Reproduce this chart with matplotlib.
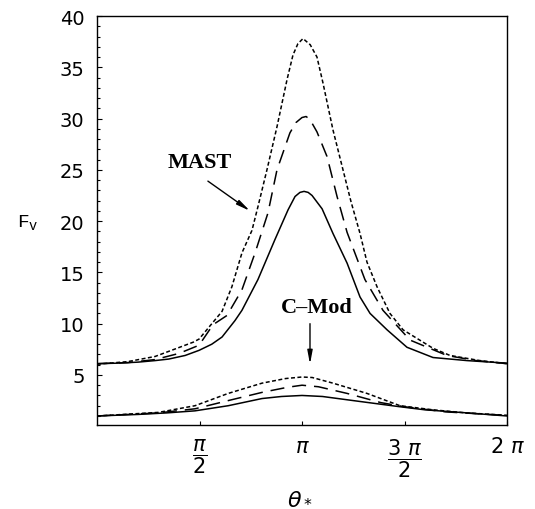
#!/usr/bin/env python3
"""F_v versus theta_* for MAST and C-Mod, three cases each."""

import matplotlib
matplotlib.use("Agg")
import matplotlib.pyplot as plt

# x positions in units of pi
MAST_SOLID_X = [0, 0.1, 0.2, 0.283, 0.35, 0.43, 0.498, 0.56, 0.61, 0.673, 0.707, 0.785, 0.868,
                0.932, 0.966, 0.99, 1.01, 1.03, 1.049, 1.098, 1.151, 1.22, 1.283, 1.332,
                1.415, 1.512, 1.639, 1.805, 2.0]
MAST_SOLID_Y = [6.1, 6.15, 6.25, 6.4, 6.55, 6.9, 7.4, 8.0, 8.7, 10.3, 11.3, 14.3, 18.2,
                21.1, 22.4, 22.8, 22.9, 22.8, 22.5, 21.2, 18.8, 15.9, 12.6, 11.0,
                9.4, 7.7, 6.7, 6.4, 6.15]

MAST_LONG_X = [0, 0.15, 0.283, 0.4, 0.498, 0.566, 0.634, 0.707, 0.771, 0.834, 0.878, 0.941,
               0.97, 1.0, 1.02, 1.039, 1.073, 1.122, 1.171, 1.22, 1.307, 1.395, 1.527, 1.707,
               1.85, 2.0]
MAST_LONG_Y = [6.1, 6.2, 6.5, 7.1, 7.9, 9.9, 10.8, 13.3, 16.9, 20.8, 25.0, 28.6,
               29.6, 30.1, 30.2, 29.9, 28.7, 26.3, 22.4, 18.9, 14.3, 11.3, 8.4, 6.9,
               6.4, 6.1]

MAST_SHORT_X = [0, 0.15, 0.283, 0.39, 0.47, 0.498, 0.61, 0.658, 0.707, 0.756, 0.785, 0.829,
                0.878, 0.927, 0.956, 0.98, 1.005, 1.04, 1.073, 1.102, 1.151, 1.2, 1.239,
                1.283, 1.317, 1.366, 1.429, 1.493, 1.639, 1.722, 1.868, 2.0]
MAST_SHORT_Y = [6.05, 6.3, 6.8, 7.6, 8.2, 8.5, 11.2, 13.6, 16.9, 19.1, 21.4, 25.0,
                29.2, 33.8, 36.2, 37.3, 37.8, 37.2, 36.0, 33.5, 28.9, 25.0, 21.9,
                18.8, 16.0, 13.6, 11.0, 9.4, 7.6, 6.9, 6.4, 6.1]

CMOD_SOLID_X = [0, 0.2, 0.34, 0.478, 0.64, 0.805, 0.9, 1.0, 1.1, 1.25, 1.478, 1.6, 1.805, 2.0]
CMOD_SOLID_Y = [1.0, 1.15, 1.3, 1.5, 2.0, 2.7, 2.9, 3.0, 2.9, 2.5, 1.9, 1.6, 1.3, 1.0]

CMOD_LONG_X = [0, 0.3, 0.478, 0.64, 0.805, 0.93, 1.0, 1.08, 1.22, 1.385, 1.5, 1.7, 2.0]
CMOD_LONG_Y = [1.0, 1.3, 1.7, 2.5, 3.3, 3.8, 4.0, 3.85, 3.2, 2.3, 1.9, 1.4, 1.05]

CMOD_SHORT_X = [0, 0.3, 0.478, 0.64, 0.805, 0.92, 1.0, 1.05, 1.151, 1.317, 1.478, 1.639,
                1.8, 2.0]
CMOD_SHORT_Y = [1.0, 1.35, 2.0, 3.2, 4.2, 4.65, 4.8, 4.75, 4.2, 3.2, 2.0, 1.6, 1.3, 1.07]

X_TICKS = [0.5, 1.0, 1.5, 2.0]
X_TICK_LABELS = [r"$\dfrac{\pi}{2}$", r"$\pi$", r"$\dfrac{3\ \pi}{2}$", r"$2\ \pi$"]
Y_TICKS = [5, 10, 15, 20, 25, 30, 35, 40]

SHORT = (0, (2.6, 1.6))
LONG = (0, (9.2, 5.2))


def main() -> None:
    plt.rcParams["font.family"] = ["DejaVu Sans"]
    plt.rcParams["mathtext.fontset"] = "dejavusans"

    fig = plt.figure(figsize=(5.35, 5.10), dpi=100)
    ax = fig.add_axes([97 / 535, 1 - 426 / 510, 410 / 535, 409 / 510])

    lw = 1.1
    ax.plot(MAST_SOLID_X, MAST_SOLID_Y, color="black", lw=lw)
    ax.plot(MAST_LONG_X, MAST_LONG_Y, color="black", lw=lw, ls=LONG)
    ax.plot(MAST_SHORT_X, MAST_SHORT_Y, color="black", lw=lw, ls=SHORT)
    ax.plot(CMOD_SOLID_X, CMOD_SOLID_Y, color="black", lw=lw)
    ax.plot(CMOD_LONG_X, CMOD_LONG_Y, color="black", lw=lw, ls=LONG)
    ax.plot(CMOD_SHORT_X, CMOD_SHORT_Y, color="black", lw=lw, ls=SHORT)

    ax.set_xlim(0, 2.0)
    ax.set_ylim(0.12, 40)

    ax.set_xticks(X_TICKS)
    ax.set_xticklabels(X_TICK_LABELS)
    ax.set_yticks(Y_TICKS)
    ax.set_yticks(range(1, 41), minor=True)
    ax.tick_params(axis="both", which="both", direction="in", top=False, right=False,
                   labelsize=14, width=0.8)
    ax.tick_params(axis="y", which="major", length=3.5, pad=9)
    ax.tick_params(axis="y", which="minor", length=1.8)
    ax.tick_params(axis="x", which="major", length=3, pad=8, labelsize=15)
    for sp in ax.spines.values():
        sp.set_linewidth(1.0)

    # annotations
    head = "-|>,head_length=0.8,head_width=0.15"
    ax.text(0.502, 25.8, "MAST", ha="center", va="center", family="Liberation Serif",
            weight="bold", fontsize=16)
    ax.annotate("", xy=(0.746, 21.0), xytext=(0.541, 23.9),
                arrowprops=dict(arrowstyle=head, color="black", lw=1.0, shrinkA=0, shrinkB=0))
    ax.text(1.073, 11.6, "C\u2013Mod", ha="center", va="center",
            family="Liberation Serif", weight="bold", fontsize=16)
    ax.annotate("", xy=(1.039, 6.05), xytext=(1.039, 10.0),
                arrowprops=dict(arrowstyle=head, color="black", lw=1.0, shrinkA=0, shrinkB=0))

    fig.text(28 / 535, 1 - 222 / 510, r"$\mathregular{F_{v}}$", ha="center", va="center",
             family="Liberation Mono", fontsize=14)
    fig.text(300 / 535, 1 - 498 / 510, r"$\theta_*$", ha="center", va="center", fontsize=16)

    fig.savefig("out.png", dpi=100)
    plt.close(fig)


if __name__ == "__main__":
    main()
